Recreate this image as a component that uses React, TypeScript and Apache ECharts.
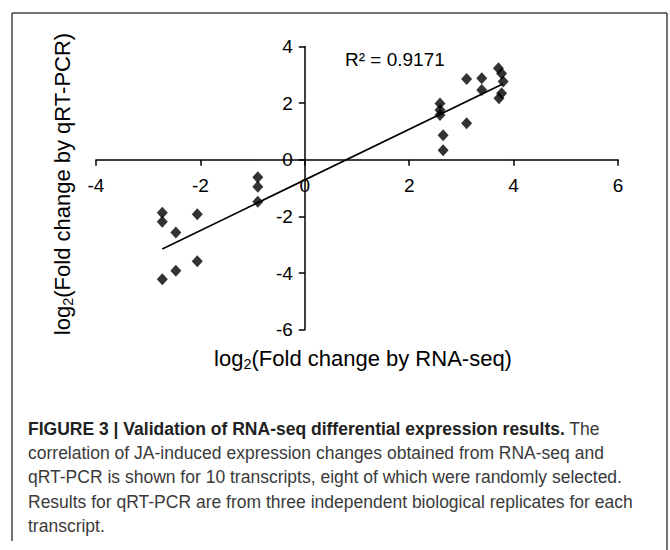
import React, { useEffect, useRef } from "react";
import * as echarts from "echarts";

// RNA-seq log2 fold change (x) and qRT-PCR log2 fold change (y)
const rnaSeq = [
  -2.73, -2.73, -2.73, -2.47, -2.47, -2.06, -2.06, -0.9, -0.9, -0.9,
  2.59, 2.59, 2.59, 2.65, 2.65, 3.1, 3.1, 3.39, 3.39, 3.71, 3.77, 3.8, 3.77, 3.72,
];
const qrtPcr = [
  -1.87, -2.19, -4.22, -2.57, -3.92, -1.92, -3.58, -0.62, -0.95, -1.48,
  1.99, 1.76, 1.58, 0.87, 0.34, 2.85, 1.29, 2.88, 2.46, 3.23, 3.05, 2.76, 2.35, 2.17,
];
// Trend line as drawn in the figure
const trendSlope = 0.893;
const trendIntercept = -0.71;
const rSquaredLabel = "R² = 0.9171";

const xTicks = { min: -4, max: 6, interval: 2 };
const yTicks = { min: -6, max: 4, interval: 2 };

const captionBold = "FIGURE 3 | Validation of RNA-seq differential expression results.";
const captionLines = [
  " The",
  "correlation of JA-induced expression changes obtained from RNA-seq and",
  "qRT-PCR is shown for 10 transcripts, eight of which were randomly selected.",
  "Results for qRT-PCR are from three independent biological replicates for each",
  "transcript.",
];

const FONT = "'Liberation Sans', Arial, Helvetica, sans-serif";

export default function App() {
  const ref = useRef<HTMLDivElement>(null);
  useEffect(() => {
    if (!ref.current) return;
    const chart = echarts.init(ref.current, undefined, { renderer: "svg" });
    const points = rnaSeq.map((x, i) => [x, qrtPcr[i]]);
    const xMin = Math.min(...rnaSeq);
    const xMax = Math.max(...rnaSeq);
    const trend = [
      [xMin, trendSlope * xMin + trendIntercept],
      [xMax, trendSlope * xMax + trendIntercept],
    ];

    // grid geometry: the axes cross at (0, 0)
    const gLeft = 96;
    const gWidth = 522;
    const gTop = 46.5;
    const gHeight = 283.2;
    const H = 550;
    const W = 670;
    const xSpan = xTicks.max - xTicks.min;
    const ySpan = yTicks.max - yTicks.min;
    const xAxisOffset = -(gHeight * (0 - yTicks.min)) / ySpan; // move bottom axis up to y = 0
    const yAxisOffset = -(gWidth * (0 - xTicks.min)) / xSpan; // move left axis right to x = 0

    const capSize = 17.5;
    const capColor = "#3a3a3a";
    const capX = 28;
    const capY0 = 429;
    const capStep = 24.2;
    const captionGraphics: any[] = [
      {
        type: "text",
        x: capX,
        y: capY0,
        style: {
          text: `{b|${captionBold}}{r|${captionLines[0]}}`,
          rich: {
            b: { fontFamily: FONT, fontSize: capSize, fontWeight: "bold", fill: "#222" },
            r: { fontFamily: FONT, fontSize: capSize, fill: capColor },
          },
          verticalAlign: "middle",
          align: "left",
        },
      },
      ...captionLines.slice(1).map((t, i) => ({
        type: "text",
        x: capX,
        y: capY0 + capStep * (i + 1),
        style: {
          text: t,
          fontFamily: FONT,
          fontSize: capSize,
          fill: capColor,
          verticalAlign: "middle",
          align: "left",
        },
      })),
    ];
    const titleRich = {
      a: { fontFamily: FONT, fontSize: 22, fill: "#000", lineHeight: 27 },
      s: { fontFamily: FONT, fontSize: 14.5, fill: "#000", lineHeight: 12, verticalAlign: "bottom" },
    };
    chart.setOption({
      animation: false,
      backgroundColor: "#fff",
      grid: {
        left: gLeft,
        right: W - gLeft - gWidth,
        top: gTop,
        bottom: H - gTop - gHeight,
        containLabel: false,
        outerBoundsMode: "none",
      },
      xAxis: {
        type: "value",
        position: "bottom",
        offset: xAxisOffset,
        min: xTicks.min,
        max: xTicks.max,
        interval: xTicks.interval,
        axisLine: { onZero: false, lineStyle: { color: "#000", width: 1.5 } },
        axisTick: { show: true, inside: false, length: 6, lineStyle: { color: "#000", width: 1.5 } },
        axisLabel: { color: "#000", fontSize: 19, fontFamily: FONT, margin: 16, showMinLabel: true, showMaxLabel: true },
        splitLine: { show: false },
      },
      yAxis: {
        type: "value",
        position: "left",
        offset: yAxisOffset,
        min: yTicks.min,
        max: yTicks.max,
        interval: yTicks.interval,
        axisLine: { onZero: false, lineStyle: { color: "#000", width: 1.5 } },
        axisTick: { show: true, inside: false, length: 6, lineStyle: { color: "#000", width: 1.5 } },
        axisLabel: { color: "#000", fontSize: 19, fontFamily: FONT, margin: 12, showMinLabel: true, showMaxLabel: true },
        splitLine: { show: false },
      },
      series: [
        {
          type: "line",
          data: trend,
          symbol: "none",
          lineStyle: { color: "#000", width: 1.6 },
          silent: true,
          z: 2,
        },
        {
          type: "scatter",
          data: points,
          symbol: "diamond",
          symbolSize: [11, 12],
          itemStyle: { color: "#000" },
          z: 3,
        },
      ],
      graphic: [
        { type: "line", shape: { x1: 12, y1: 13, x2: 667, y2: 13 }, style: { stroke: "#444", lineWidth: 1.5 } },
        { type: "line", shape: { x1: 12, y1: 13, x2: 12, y2: 541 }, style: { stroke: "#444", lineWidth: 1.5 } },
        { type: "line", shape: { x1: 667, y1: 13, x2: 667, y2: 550 }, style: { stroke: "#444", lineWidth: 1.5 } },
        {
          type: "text",
          x: 345,
          y: 59,
          style: { text: rSquaredLabel, fontFamily: FONT, fontSize: 19, fill: "#000", align: "left", verticalAlign: "middle" },
        },
        {
          type: "text",
          x: 363,
          y: 358,
          style: {
            text: "{a|log}{s|2}{a|(Fold change by RNA-seq)}",
            rich: titleRich,
            align: "center",
            verticalAlign: "middle",
          },
        },
        {
          type: "text",
          x: 62,
          y: 184,
          rotation: Math.PI / 2,
          style: {
            text: "{a|log}{s|2}{a|(Fold change by qRT-PCR)}",
            rich: titleRich,
            align: "center",
            verticalAlign: "middle",
          },
        },
        ...captionGraphics,
      ],
    });
    return () => chart.dispose();
  }, []);
  return (
    <div
      ref={ref}
      style={{ position: "absolute", left: 0, top: 0, width: 670, height: 550, background: "#fff" }}
    />
  );
}
